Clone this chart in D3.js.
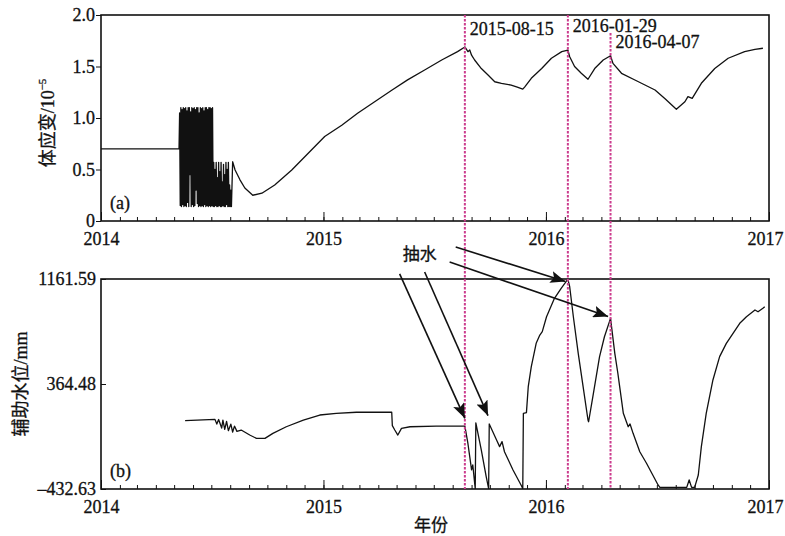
<!DOCTYPE html>
<meta charset="utf-8">
<script src="https://d3js.org/d3.v7.min.js"></script>
<style>
body { margin: 0; background: #fff; }
text { font-family: "Liberation Serif", "Noto Sans CJK SC", serif; fill: #111; stroke: #111; stroke-width: 0.3px; }
.axis path, .axis line { stroke: #111; }
</style>
<div id="chart"></div>
<script>
// (a) volumetric strain, units 10^-5
var strainData = [
  ["2014-01-01",0.70],["2014-05-09",0.70],
  ["2014-05-10",1.05],["2014-05-11",0.15],["2014-05-12",1.10],["2014-05-13",0.14],["2014-05-14",1.08],["2014-05-15",0.16],
  ["2014-05-16",1.10],["2014-05-17",0.14],["2014-05-18",1.09],["2014-05-19",0.15],["2014-05-20",1.10],["2014-05-21",0.14],
  ["2014-05-22",1.07],["2014-05-23",0.18],["2014-05-24",1.10],["2014-05-25",0.14],["2014-05-26",1.10],["2014-05-27",0.45],
  ["2014-05-28",1.06],["2014-05-29",0.14],["2014-05-30",1.10],["2014-05-31",0.16],["2014-06-01",1.09],["2014-06-02",0.14],
  ["2014-06-03",1.10],["2014-06-04",0.15],["2014-06-05",1.08],["2014-06-06",0.30],["2014-06-07",1.10],["2014-06-08",0.17],
  ["2014-06-09",1.10],["2014-06-10",0.14],["2014-06-11",1.05],["2014-06-12",0.15],["2014-06-13",1.10],["2014-06-14",0.14],
  ["2014-06-15",1.09],["2014-06-16",0.15],["2014-06-17",1.10],["2014-06-18",0.14],["2014-06-19",1.07],["2014-06-20",0.16],
  ["2014-06-21",1.10],["2014-06-22",0.14],["2014-06-23",1.10],["2014-06-24",0.15],["2014-06-25",1.08],["2014-06-26",0.14],
  ["2014-06-27",1.10],["2014-06-28",0.15],["2014-06-29",1.10],["2014-06-30",0.14],["2014-07-01",1.09],["2014-07-02",0.15],
  ["2014-07-03",1.10],["2014-07-04",0.14],
  ["2014-07-05",0.57],["2014-07-06",0.14],["2014-07-07",0.50],["2014-07-08",0.15],["2014-07-09",0.57],["2014-07-10",0.14],
  ["2014-07-11",0.42],["2014-07-12",0.14],["2014-07-13",0.57],["2014-07-14",0.15],["2014-07-15",0.48],["2014-07-16",0.14],
  ["2014-07-17",0.57],["2014-07-18",0.14],["2014-07-19",0.38],["2014-07-20",0.15],["2014-07-21",0.55],["2014-07-22",0.14],
  ["2014-07-23",0.45],["2014-07-24",0.14],["2014-07-25",0.57],["2014-07-26",0.16],["2014-07-27",0.50],["2014-07-28",0.14],
  ["2014-07-29",0.57],["2014-07-30",0.14],["2014-07-31",0.35],["2014-08-01",0.14],["2014-08-02",0.30],["2014-08-03",0.14],
  ["2014-08-05",0.575],
  ["2014-08-09",0.495],["2014-08-17",0.40],["2014-08-25",0.32],["2014-09-07",0.25],["2014-09-22",0.27],["2014-10-13",0.35],
  ["2014-11-10",0.495],["2014-12-07",0.657],["2015-01-03",0.82],["2015-01-31",0.93],["2015-02-26",1.046],["2015-03-26",1.158],
  ["2015-04-23",1.27],["2015-05-19",1.37],["2015-06-16",1.466],["2015-07-14",1.563],["2015-08-09",1.644],["2015-08-21",1.69],
  ["2015-08-26",1.644],["2015-08-29",1.66],["2015-09-01",1.61],["2015-09-06",1.563],["2015-09-17",1.48],["2015-09-28",1.417],
  ["2015-10-09",1.352],["2015-10-20",1.337],["2015-11-05",1.32],["2015-11-15",1.30],["2015-11-24",1.28],["2015-11-27",1.30],
  ["2015-12-08",1.385],["2015-12-25",1.48],["2016-01-10",1.58],["2016-01-27",1.644],["2016-02-06",1.66],["2016-02-09",1.595],
  ["2016-02-17",1.50],["2016-02-28",1.434],["2016-03-10",1.376],["2016-03-21",1.48],["2016-04-04",1.563],["2016-04-16",1.605],
  ["2016-04-20",1.53],["2016-05-04",1.434],["2016-05-26",1.369],["2016-06-28",1.272],["2016-07-14",1.19],["2016-08-02",1.085],
  ["2016-08-16",1.158],["2016-08-21",1.207],["2016-08-28",1.19],["2016-09-12",1.337],["2016-10-04",1.48],["2016-10-26",1.58],
  ["2016-11-22",1.644],["2016-12-09",1.667],["2016-12-22",1.677]
];

// (b) auxiliary water level, mm
var waterData = [
  ["2014-05-19",86],["2014-07-07",96],["2014-07-10",60],["2014-07-13",95],["2014-07-18",30],["2014-07-20",90],
  ["2014-07-23",20],["2014-07-26",80],["2014-07-29",10],["2014-08-02",60],["2014-08-05",0],["2014-08-08",45],
  ["2014-08-12",5],["2014-08-19",15],["2014-09-02",-23],["2014-09-13",-48],["2014-09-27",-48],["2014-10-10",-10],
  ["2014-11-01",40],["2014-11-29",91],["2014-12-26",129],["2015-01-22",142],["2015-02-24",150],["2015-04-23",150],
  ["2015-04-24",48],["2015-04-28",15],["2015-05-03",-23],["2015-05-09",28],["2015-05-23",40],["2015-07-05",45],
  ["2015-08-21",45],["2015-08-26",-87],["2015-09-01",-288],["2015-09-03",-250],["2015-09-07",-430],["2015-09-08",70],
  ["2015-09-17",-137],["2015-09-25",-339],["2015-09-29",-430],["2015-09-30",61],["2015-10-12",-60],["2015-10-17",-111],
  ["2015-10-21",-73],["2015-10-25",-150],["2015-11-08",-288],["2015-11-22",-410],["2015-11-24",-430],["2015-11-25",142],
  ["2015-11-30",147],["2015-12-03",344],["2015-12-08",496],["2015-12-16",673],["2015-12-22",736],["2015-12-26",762],
  ["2016-01-02",875],["2016-01-15",1015],["2016-01-26",1091],["2016-02-06",1160],["2016-02-09",1103],["2016-02-15",875],
  ["2016-02-23",597],["2016-03-02",344],["2016-03-10",91],["2016-03-11",78],["2016-03-18",268],["2016-03-29",572],
  ["2016-04-06",723],["2016-04-16",863],["2016-04-23",597],["2016-04-28",446],["2016-05-01",344],["2016-05-07",142],
  ["2016-05-12",78],["2016-05-15",40],["2016-05-18",61],["2016-05-23",-10],["2016-06-03",-150],["2016-06-14",-237],
  ["2016-07-03",-402],["2016-07-06",-420],["2016-08-19",-420],["2016-08-23",-364],["2016-08-27",-420],["2016-09-01",-420],
  ["2016-09-07",-326],["2016-09-12",-111],["2016-09-20",142],["2016-10-01",395],["2016-10-12",572],["2016-10-23",673],
  ["2016-11-03",749],["2016-11-14",825],["2016-11-25",875],["2016-12-09",926],["2016-12-14",913],["2016-12-22",939],
  ["2016-12-25",951]
];

// dashed event lines (position) and their labels
var eventDates = ["2015-08-21", "2016-02-06", "2016-04-16"];
var eventLabels = ["2015-08-15", "2016-01-29", "2016-04-07"];

var yearLabels = ["2014", "2015", "2016", "2017"];
var strainTicks = [0, 0.5, 1.0, 1.5, 2.0];
var strainTickLabels = ["0", "0.5", "1.0", "1.5", "2.0"];
var waterTicks = [-432.63, 364.48, 1161.59];
var waterTickLabels = ["–432.63", "364.48", "1161.59"];

// "抽水" annotation, in panel (b) units
var pumpLabel = ["2015-06-08", 1306];
var arrowFrom = [["2015-05-06",1200], ["2015-06-16",1215], ["2015-08-06",1404], ["2015-07-27",1290]];
var arrowTo   = [["2015-08-21",104], ["2015-09-28",124], ["2016-02-02",1143], ["2016-04-12",877]];

var W = 785, H = 536;
var parse = d3.timeParse("%Y-%m-%d");

var svg = d3.select("#chart").append("svg")
  .attr("width", W).attr("height", H);

var x = d3.scaleTime()
  .domain([parse("2014-01-01"), parse("2017-01-01")])
  .range([101, 769]);

var yA = d3.scaleLinear().domain([0, 2]).range([221, 15]);
var yB = d3.scaleLinear().domain([-432.63, 1161.59]).range([489, 279]);

var months = d3.timeMonth.range(parse("2014-01-01"), parse("2017-01-02"));
var years = yearLabels.map(function(y) { return parse(y + "-01-01"); });

function drawPanel(y, ticks, tickLabels, yTickSize, data, tag, clipId) {
  var top = y.range()[1], bottom = y.range()[0];

  // minor monthly ticks (inward)
  svg.append("g").attr("class", "axis")
    .attr("transform", "translate(0," + bottom + ")")
    .call(d3.axisBottom(x).tickValues(months).tickSize(-4).tickFormat(""))
    .call(function(g) { g.select(".domain").remove(); });

  // year ticks with labels
  var xa = svg.append("g").attr("class", "axis")
    .attr("transform", "translate(0," + bottom + ")")
    .call(d3.axisBottom(x).tickValues(years).tickSize(-9).tickPadding(11)
      .tickFormat(function(d, i) { return yearLabels[i]; }));
  xa.select(".domain").remove();
  xa.selectAll("text").attr("font-size", 18).attr("fill", "#111")
    .attr("dx", function(d, i) { return i === yearLabels.length - 1 ? -4 : 0; });

  var ya = svg.append("g").attr("class", "axis")
    .attr("transform", "translate(" + x.range()[0] + ",0)")
    .call(d3.axisLeft(y).tickValues(ticks).tickSize(yTickSize).tickPadding(yTickSize > 0 ? 1 : 5)
      .tickFormat(function(d, i) { return tickLabels[i]; }));
  ya.select(".domain").remove();
  ya.selectAll("text").attr("font-size", 18).attr("fill", "#111");

  // frame
  svg.append("rect")
    .attr("x", x.range()[0]).attr("y", top)
    .attr("width", x.range()[1] - x.range()[0]).attr("height", bottom - top)
    .attr("fill", "none").attr("stroke", "#111").attr("stroke-width", 1.6);

  svg.append("clipPath").attr("id", clipId)
    .append("rect")
    .attr("x", x.range()[0]).attr("y", top)
    .attr("width", x.range()[1] - x.range()[0]).attr("height", bottom - top);

  var line = d3.line()
    .x(function(d) { return x(parse(d[0])); })
    .y(function(d) { return y(d[1]); });

  svg.append("path")
    .datum(data)
    .attr("clip-path", "url(#" + clipId + ")")
    .attr("d", line)
    .attr("fill", "none")
    .attr("stroke", "#111")
    .attr("stroke-width", 1.3)
    .attr("stroke-linejoin", "round");

  svg.append("text")
    .attr("x", x.range()[0] + 9)
    .attr("y", bottom - 12)
    .attr("font-size", 18)
    .text(tag);
}

drawPanel(yA, strainTicks, strainTickLabels, 5, strainData, "(a)", "clipA");
drawPanel(yB, waterTicks, waterTickLabels, -5, waterData, "(b)", "clipB");

// event lines
eventDates.forEach(function(d, i) {
  var ex = x(parse(d));
  svg.append("line")
    .attr("x1", ex).attr("x2", ex)
    .attr("y1", i === 2 ? 33 : yA.range()[1])
    .attr("y2", yB.range()[0])
    .attr("stroke", "#cc3d8e")
    .attr("stroke-width", 2)
    .attr("stroke-dasharray", "2.5,1.5");
});

var labelDy = [35, 32, 48];
eventLabels.forEach(function(t, i) {
  svg.append("text")
    .attr("x", x(parse(eventDates[i])) + 5)
    .attr("y", labelDy[i])
    .attr("font-size", 18)
    .text(t);
});

// arrows
svg.append("defs").append("marker")
  .attr("id", "arrow")
  .attr("markerUnits", "userSpaceOnUse")
  .attr("markerWidth", 16).attr("markerHeight", 12)
  .attr("refX", 15).attr("refY", 6)
  .attr("orient", "auto")
  .append("path")
  .attr("d", "M0,0 L15,6 L0,12 L3,6 Z")
  .attr("fill", "#111");

arrowFrom.forEach(function(a, i) {
  var b = arrowTo[i];
  svg.append("line")
    .attr("x1", x(parse(a[0]))).attr("y1", yB(a[1]))
    .attr("x2", x(parse(b[0]))).attr("y2", yB(b[1]))
    .attr("stroke", "#111")
    .attr("stroke-width", 1.6)
    .attr("marker-end", "url(#arrow)");
});

svg.append("text")
  .attr("x", x(parse(pumpLabel[0])))
  .attr("y", yB(pumpLabel[1]))
  .attr("text-anchor", "middle")
  .attr("font-size", 17)
  .text("抽水");

// axis titles
var ta = svg.append("text")
  .attr("transform", "translate(54,123) rotate(-90)")
  .attr("text-anchor", "middle")
  .attr("font-size", 18);
ta.append("tspan").text("体应变/10");
ta.append("tspan").attr("font-size", 11).attr("dy", -8).text("−5");

svg.append("text")
  .attr("transform", "translate(27,384) rotate(-90)")
  .attr("text-anchor", "middle")
  .attr("font-size", 18)
  .text("辅助水位/mm");

svg.append("text")
  .attr("x", 431).attr("y", 531)
  .attr("text-anchor", "middle")
  .attr("font-size", 17)
  .text("年份");
</script>
